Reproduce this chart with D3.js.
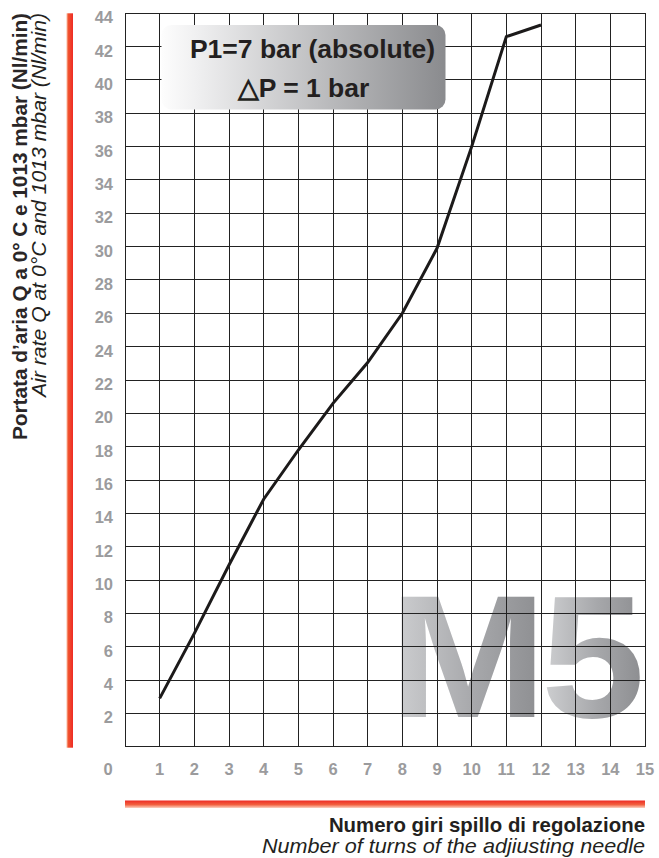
<!DOCTYPE html>
<html>
<head>
<meta charset="utf-8">
<script src="https://cdn.jsdelivr.net/npm/d3@7"></script>
<style>
  html, body { margin: 0; padding: 0; background: #fff; }
  svg { display: block; }
  text { font-family: "Liberation Sans", Arial, Helvetica, sans-serif; }
</style>
</head>
<body>
<svg id="chart" width="659" height="858"></svg>
<script>
// ---- data ----
const turns = [1, 2, 3, 4, 5, 6, 7, 8, 9, 10, 11, 12];
const flow  = [2.9, 6.8, 10.9, 14.85, 17.8, 20.6, 23.05, 26.0, 29.9, 36.0, 42.6, 43.3];
const xTicks = [0, 1, 2, 3, 4, 5, 6, 7, 8, 9, 10, 11, 12, 13, 14, 15];
const yTicks = [2, 4, 6, 8, 10, 12, 14, 16, 18, 20, 22, 24, 26, 28, 30, 32, 34, 36, 38, 40, 42, 44];
const yGrid = d3.range(0, 46, 2);
const boxLines = ["P1=7 bar (absolute)", "\u25B3P = 1 bar"];
const yTitle1 = "Portata d\u2019aria Q a 0\u00B0 C e 1013 mbar (Nl/min)";
const yTitle2 = "Air rate Q at 0\u00B0C and 1013 mbar (Nl/min)";
const xTitle1 = "Numero giri spillo di regolazione";
const xTitle2 = "Number of turns of the adjiusting needle";
const badge = ["M", "5"];

const svg = d3.select("#chart");
const x = d3.scaleLinear().domain([0, 15]).range([125, 645]);
const y = d3.scaleLinear().domain([0, 44]).range([746.7, 13.3]);

// ---- gradients ----
const defs = svg.append("defs");
const gBox = defs.append("linearGradient").attr("id", "gBox");
gBox.append("stop").attr("offset", "0").attr("stop-color", "#fdfdfd");
gBox.append("stop").attr("offset", "0.12").attr("stop-color", "#f0f0f1");
gBox.append("stop").attr("offset", "1").attr("stop-color", "#8a8b8e");

const gM = defs.append("linearGradient").attr("id", "gM");
gM.append("stop").attr("offset", "0").attr("stop-color", "#d0d1d3");
gM.append("stop").attr("offset", "0.55").attr("stop-color", "#a6a7aa");
gM.append("stop").attr("offset", "1").attr("stop-color", "#8b8c8f");

const gRedV = defs.append("linearGradient").attr("id", "gRedV");
gRedV.append("stop").attr("offset", "0").attr("stop-color", "#f9b9a0");
gRedV.append("stop").attr("offset", "0.3").attr("stop-color", "#f1532f");
gRedV.append("stop").attr("offset", "1").attr("stop-color", "#ee2a24");

const gRedH = defs.append("linearGradient").attr("id", "gRedH")
  .attr("x1", 0).attr("y1", 0).attr("x2", 0).attr("y2", 1);
gRedH.append("stop").attr("offset", "0").attr("stop-color", "#ee2a24");
gRedH.append("stop").attr("offset", "0.55").attr("stop-color", "#f2603f");
gRedH.append("stop").attr("offset", "1").attr("stop-color", "#fcd2c2");

// ---- M5 badge (behind grid) ----
const badgeG = svg.append("g");
badgeG.append("text")
  .attr("x", 389).attr("y", y(1.8))
  .attr("font-size", 174).attr("font-weight", "bold")
  .attr("textLength", 158).attr("lengthAdjust", "spacingAndGlyphs")
  .attr("fill", "url(#gM)")
  .text(badge[0]);
badgeG.append("text")
  .attr("x", 541).attr("y", y(1.8))
  .attr("font-size", 174).attr("font-weight", "bold")
  .attr("textLength", 104).attr("lengthAdjust", "spacingAndGlyphs")
  .attr("fill", "url(#gM)")
  .text(badge[1]);

// ---- grid ----
const grid = svg.append("g").attr("stroke", "#222").attr("stroke-width", 1).attr("shape-rendering", "crispEdges");
grid.selectAll("line.v").data(xTicks).join("line")
  .attr("class", "v")
  .attr("x1", d => x(d)).attr("x2", d => x(d))
  .attr("y1", y(44)).attr("y2", y(0));
grid.selectAll("line.h").data(yGrid).join("line")
  .attr("class", "h")
  .attr("x1", x(0)).attr("x2", x(15))
  .attr("y1", d => y(d)).attr("y2", d => y(d));

// ---- info box ----
svg.append("rect")
  .attr("x", 161.5).attr("y", 25).attr("width", 284).attr("height", 84.5)
  .attr("rx", 10).attr("ry", 10)
  .attr("fill", "url(#gBox)");
svg.append("text")
  .attr("x", 312.5).attr("y", 57.5)
  .attr("text-anchor", "middle").attr("font-size", 26.5).attr("font-weight", "bold")
  .attr("fill", "#231f20")
  .text(boxLines[0]);
svg.append("text")
  .attr("x", 303.5).attr("y", 96.5)
  .attr("text-anchor", "middle").attr("font-size", 26.5).attr("font-weight", "bold")
  .attr("fill", "#231f20")
  .text(boxLines[1]);

// ---- data line ----
const line = d3.line().x((d, i) => x(turns[i])).y(d => y(d));
svg.append("path")
  .attr("d", line(flow))
  .attr("fill", "none").attr("stroke", "#1c1a1a").attr("stroke-width", 3)
  .attr("stroke-linejoin", "miter");

// ---- tick labels ----
svg.append("g").selectAll("text").data(yTicks).join("text")
  .attr("x", 113).attr("y", d => y(d) + 10)
  .attr("text-anchor", "end").attr("font-size", 16.5).attr("font-weight", "bold")
  .attr("fill", "#9b9b9d")
  .text(d => d);
svg.append("g").selectAll("text").data(xTicks).join("text")
  .attr("x", d => d === 0 ? x(d) - 17 : x(d))
  .attr("y", 775)
  .attr("text-anchor", "middle").attr("font-size", 16.5).attr("font-weight", "bold")
  .attr("fill", "#9b9b9d")
  .text(d => d);

// ---- red bars ----
svg.append("rect").attr("x", 66.5).attr("y", y(44)).attr("width", 6.5).attr("height", y(0) - y(44) + 1)
  .attr("fill", "url(#gRedV)");
svg.append("rect").attr("x", x(0)).attr("y", 800.5).attr("width", x(15) - x(0)).attr("height", 7.5)
  .attr("fill", "url(#gRedH)");

// ---- axis titles ----
svg.append("text")
  .attr("transform", "translate(26.5,13) rotate(-90)")
  .attr("text-anchor", "end").attr("font-size", 19.5).attr("font-weight", "bold")
  .attr("textLength", 427).attr("lengthAdjust", "spacingAndGlyphs")
  .attr("fill", "#2a2627")
  .text(yTitle1);
svg.append("text")
  .attr("transform", "translate(46,13) rotate(-90)")
  .attr("text-anchor", "end").attr("font-size", 19.5).attr("font-style", "italic")
  .attr("textLength", 384).attr("lengthAdjust", "spacingAndGlyphs")
  .attr("fill", "#231f20")
  .text(yTitle2);

svg.append("text")
  .attr("x", 645).attr("y", 832)
  .attr("text-anchor", "end").attr("font-size", 20.4).attr("font-weight", "bold")
  .attr("fill", "#231f20")
  .text(xTitle1);
svg.append("text")
  .attr("x", 645).attr("y", 853.3)
  .attr("text-anchor", "end").attr("font-size", 21)
  .attr("font-style", "italic")
  .attr("textLength", 383).attr("lengthAdjust", "spacingAndGlyphs")
  .attr("fill", "#231f20")
  .text(xTitle2);
</script>
</body>
</html>
